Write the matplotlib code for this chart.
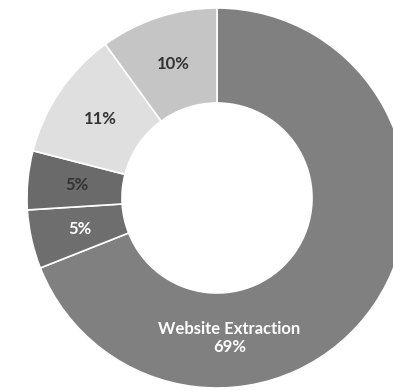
import numpy as np
import matplotlib
matplotlib.use("Agg")
import matplotlib.pyplot as plt

# slice data, clockwise from 12 o'clock
values = [69, 5, 5, 11, 10]
labels = ["Website Extraction\n69%", "5%", "5%", "11%", "10%"]
colors = ["#808080", "#6e6e6e", "#6a6a6a", "#dfdfdf", "#c5c5c5"]
text_colors = ["white", "white", "#333333", "#333333", "#333333"]

plt.rcParams["font.family"] = ["Lato", "DejaVu Sans"]

fig = plt.figure(figsize=(3.93, 3.91), dpi=100)
ax = fig.add_axes([0, 0, 1, 1])

wedges, _ = ax.pie(values, colors=colors, startangle=90, counterclock=False,
                   radius=1.0, wedgeprops=dict(width=0.5, edgecolor="white", linewidth=1.2))

# label positions: mid-ring, big slice label sits near the bottom like the original
total = float(sum(values))
start = 90.0
for i, (v, lab) in enumerate(zip(values, labels)):
    span = v / total * 360.0
    mid = start - span / 2.0
    start -= span
    r = 0.74
    if i == 0:
        mid = -85.0
        r = 0.74
    x = r * np.cos(np.radians(mid))
    y = r * np.sin(np.radians(mid))
    ax.text(x, y, lab, ha="center", va="center", fontsize=12, fontweight="bold",
            color=text_colors[i], linespacing=1.15)

ax.set_xlim(-217 / 190, (393 - 217) / 190)
ax.set_ylim(-(391 - 198) / 190, 198 / 190)
ax.set_aspect("auto")
ax.axis("off")

fig.savefig("out.png", dpi=100, facecolor="white")
